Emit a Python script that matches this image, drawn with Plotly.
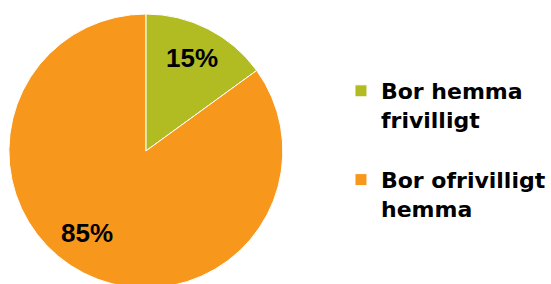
import math
import plotly.graph_objects as go

labels = ["Bor hemma<br>frivilligt<br>", "Bor ofrivilligt<br>hemma"]
values = [15, 85]
colors = ["#B0BC22", "#F7981D"]

W, H = 551, 302

# pie geometry (pixels)
PIE_LEFT, PIE_RIGHT, PIE_TOP, PIE_BOTTOM = 9, 287, 12, 290
# label placement style: radius fraction and angular nudge (degrees) per slice
LABEL_R = [0.75, 0.73]
LABEL_NUDGE_DEG = [0, 9]

dom_x = [PIE_LEFT / W, PIE_RIGHT / W]
dom_y = [1 - PIE_BOTTOM / H, 1 - PIE_TOP / H]

fig = go.Figure(
    go.Pie(
        labels=labels,
        values=values,
        sort=False,
        direction="clockwise",
        rotation=0,
        marker=dict(colors=colors, line=dict(color="white", width=1)),
        textinfo="none",
        domain=dict(x=dom_x, y=dom_y),
        hoverinfo="skip",
    )
)

# percent labels placed near each slice's bisector
total = sum(values)
cx = (dom_x[0] + dom_x[1]) / 2
cy = (dom_y[0] + dom_y[1]) / 2
radius_px = min(PIE_RIGHT - PIE_LEFT, PIE_BOTTOM - PIE_TOP) / 2
cum = 0
for i, v in enumerate(values):
    mid = (cum + v / 2) / total * 2 * math.pi + math.radians(LABEL_NUDGE_DEG[i])
    cum += v
    fig.add_annotation(
        x=cx + radius_px * LABEL_R[i] * math.sin(mid) / W,
        y=cy + radius_px * LABEL_R[i] * math.cos(mid) / H,
        xref="paper",
        yref="paper",
        text=f"{round(v / total * 100)}%",
        showarrow=False,
        font=dict(family="Liberation Sans, Arial", size=26, color="black", weight="bold"),
        xanchor="center",
        yanchor="middle",
    )

fig.update_layout(
    width=W,
    height=H,
    margin=dict(l=0, r=0, t=0, b=0),
    paper_bgcolor="white",
    plot_bgcolor="white",
    showlegend=True,
    legend=dict(
        x=346 / W,
        xanchor="left",
        y=1 - 70 / H,
        yanchor="top",
        valign="top",
        font=dict(family="DejaVu Sans", size=22, color="black", weight="bold"),
        bgcolor="rgba(0,0,0,0)",
    ),
)

fig.write_html(
    "out.html",
    config={"displayModeBar": False},
    post_script="document.body.style.margin='0';document.body.style.overflow='hidden';",
)
